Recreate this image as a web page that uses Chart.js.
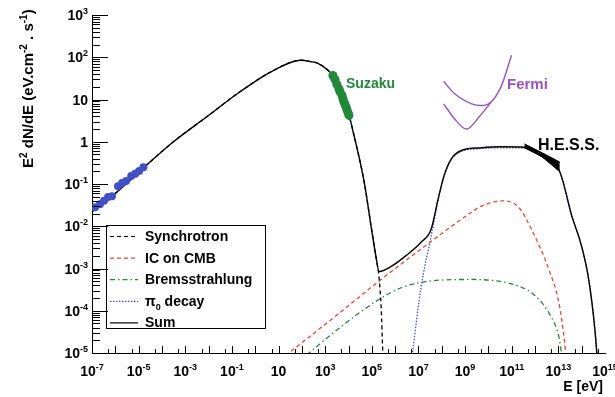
<!DOCTYPE html>
<html>
<head>
<meta charset="utf-8">
<script src="https://cdn.jsdelivr.net/npm/chart.js@4.4.1/dist/chart.umd.min.js"></script>
<style>
  html, body { margin: 0; padding: 0; background: #fff; }
  #wrap { width: 615px; height: 397px; }
</style>
</head>
<body>
<div id="wrap"><canvas id="sed" width="615" height="397"></canvas></div>
<script>
// energies in eV, fluxes are E^2 dN/dE in eV cm^-2 s^-1
var syncE = [1e-7, 1e-6, 1.6e-5, 3.1e-4, 8.9e-3, 0.23, 6.2, 89, 240, 490, 1320, 2340, 1.05e4, 1.74e4, 4.7e4, 9.3e4, 1.5e5, 2.05e5, 2.5e5, 3.0e5];
var syncF = [0.022, 0.06, 0.24, 1.0, 4.0, 15.5, 49, 85, 79, 72, 49, 35, 4.2, 1.38, 0.112, 0.010, 1.9e-3, 6e-4, 1.26e-4, 8e-6];

var icE = [20, 4.8e3, 2e5, 1.3e7, 1.86e9, 5e9, 4.5e10, 2e11, 7e11, 3.9e12, 1.05e13, 1.86e13, 2.1e13];
var icF = [8.7e-6, 9.5e-5, 5e-4, 2.9e-3, 0.0214, 0.030, 0.040, 0.028, 8.5e-3, 9.5e-4, 1.55e-4, 1.74e-5, 8e-6];

var bremE = [160, 4.8e3, 1.86e5, 1.8e6, 1.3e7, 1.6e8, 1.86e9, 3.6e10, 2e11, 7e11, 3.9e12, 1.05e13, 1.4e13];
var bremF = [9e-6, 4.2e-5, 1.8e-4, 3.5e-4, 4.7e-4, 5.4e-4, 5.5e-4, 4.9e-4, 3.8e-4, 2.7e-4, 8.9e-5, 2.4e-5, 9e-6];

var pi0E = [5.4e6, 1.3e7, 3.5e7, 7.1e7, 1.26e8, 2.6e8, 6.9e8, 5e9, 3.2e10, 3.5e11, 2e12, 1.15e13, 3.8e13, 1e14, 2e14, 3.7e14, 4.6e14];
var pi0F = [9e-6, 3.7e-4, 5.8e-3, 0.044, 0.15, 0.38, 0.59, 0.69, 0.72, 0.71, 0.44, 0.19, 0.017, 3.3e-3, 5.5e-4, 3.5e-5, 8e-6];

var sumE = [1e-7, 1e-6, 1.6e-5, 3.1e-4, 8.9e-3, 0.23, 6.2, 89, 240, 490, 1320, 2340, 1.05e4, 1.74e4, 4.7e4, 9.3e4, 1.5e5, 2.05e5, 6.8e5, 3.2e6, 1.3e7, 3.5e7, 7.1e7, 1.26e8, 2.6e8, 6.9e8, 5e9, 3.2e10, 3.5e11, 2e12, 1.15e13, 3.8e13, 1e14, 2e14, 3.7e14, 4.6e14];
var sumF = [0.022, 0.06, 0.24, 1.0, 4.0, 15.5, 49, 85, 79, 72, 49, 35, 4.2, 1.38, 0.112, 0.010, 1.95e-3, 8.5e-4, 1.12e-3, 2.1e-3, 4.2e-3, 8.5e-3, 0.046, 0.16, 0.40, 0.62, 0.72, 0.76, 0.74, 0.45, 0.195, 0.0174, 3.3e-3, 5.5e-4, 3.5e-5, 8e-6];

// radio points (blue) and Suzaku X-ray points (green)
var radioE = [1.35e-7, 2.2e-7, 3.3e-7, 4.9e-7, 7.2e-7, 1.3e-6, 1.95e-6, 2.9e-6, 4.8e-6, 7.1e-6, 1.05e-5, 1.6e-5];
var radioF = [0.028, 0.033, 0.040, 0.049, 0.051, 0.089, 0.105, 0.117, 0.155, 0.174, 0.204, 0.25];
var suzakuE = [2140, 2630, 3160, 3890, 4270, 5250, 5750, 6310, 7080, 7760, 8510, 9550, 1.05e4];
var suzakuF = [37, 30, 23, 18, 15.5, 12.6, 10.5, 8.9, 7.6, 6.8, 5.8, 4.9, 4.2];

// Fermi sensitivity curves
var fermiUpE = [1.2e8, 3.5e8, 1.9e9, 5e9, 1.35e10, 3.6e10, 9.8e10];
var fermiUpF = [27, 13.8, 7.9, 7.2, 8.9, 21, 112];
var fermiLoE = [1.2e8, 3.5e8, 1.15e9, 4.2e9, 1.35e10];
var fermiLoF = [7.9, 3.5, 2.0, 4.0, 8.9];

// H.E.S.S. butterfly
var hessE = [3.5e11, 2e12, 1.15e13];
var hessHi = [0.89, 0.55, 0.33];
var hessLo = [0.72, 0.44, 0.195];

// axis ticks
var xTicks = [1e-7, 1e-5, 1e-3, 0.1, 10, 1e3, 1e5, 1e7, 1e9, 1e11, 1e13, 1e15];
var xTickLabels = [['10', '-7'], ['10', '-5'], ['10', '-3'], ['10', '-1'], ['10', ''], ['10', '3'], ['10', '5'], ['10', '7'], ['10', '9'], ['10', '11'], ['10', '13'], ['10', '15']];
var yTicks = [1e-5, 1e-4, 1e-3, 1e-2, 0.1, 1, 10, 100, 1000];
var yTickLabels = [['10', '-5'], ['10', '-4'], ['10', '-3'], ['10', '-2'], ['10', '-1'], ['1', ''], ['10', ''], ['10', '2'], ['10', '3']];

var RED = '#ee4433', GREEN = '#22883a', BLUE = '#4a4ad8', PURPLE = '#9a52c2', PTBLUE = '#4250c8';

function pts(xs, ys) {
  return xs.map(function (v, i) { return { x: v, y: ys[i] }; });
}
function curve(label, xs, ys, color, dash, width) {
  return { label: label, data: pts(xs, ys), borderColor: color, borderDash: dash, borderWidth: width || 1.3,
    pointRadius: 0, fill: false, cubicInterpolationMode: 'monotone' };
}
function fontOf(size) { return 'bold ' + size + 'px "Liberation Sans", Arial, sans-serif'; }
// parts: [text, 0 normal | 1 superscript | -1 subscript]
function drawRich(ctx, parts, x, y, size, align) {
  var small = Math.round(size * 0.66), w = 0;
  parts.forEach(function (p) { ctx.font = fontOf(p[1] ? small : size); w += ctx.measureText(p[0]).width; });
  var cx = align === 'right' ? x - w : (align === 'center' ? x - w / 2 : x);
  ctx.textAlign = 'left';
  ctx.textBaseline = 'alphabetic';
  parts.forEach(function (p) {
    ctx.font = fontOf(p[1] ? small : size);
    var dy = p[1] === 1 ? -size * 0.42 : (p[1] === -1 ? size * 0.3 : 0);
    ctx.fillText(p[0], cx, y + dy);
    cx += ctx.measureText(p[0]).width;
  });
}

var legendItems = [
  { parts: [['Synchrotron', 0]], color: '#000', dash: [4, 3] },
  { parts: [['IC on CMB', 0]], color: RED, dash: [4, 3] },
  { parts: [['Bremsstrahlung', 0]], color: GREEN, dash: [5, 3, 1.5, 3] },
  { parts: [['\u03c0', 0], ['0', -1], [' decay', 0]], color: BLUE, dash: [1.5, 1.5] },
  { parts: [['Sum', 0]], color: '#000', dash: [] }
];

var decorations = {
  id: 'decorations',
  afterDatasetsDraw: function (chart) {
    var ctx = chart.ctx;
    ctx.save();
    // legend box
    ctx.fillStyle = '#fff';
    ctx.fillRect(106, 225, 159, 103);
    ctx.strokeStyle = '#000';
    ctx.lineWidth = 1;
    ctx.strokeRect(106.5, 225.5, 159, 103);
    legendItems.forEach(function (it, i) {
      var ly = 236 + i * 21.6;
      ctx.beginPath();
      ctx.setLineDash(it.dash);
      ctx.strokeStyle = it.color;
      ctx.lineWidth = 1.2;
      ctx.moveTo(110, ly + 0.5);
      ctx.lineTo(138, ly + 0.5);
      ctx.stroke();
      ctx.setLineDash([]);
      ctx.fillStyle = '#000';
      drawRich(ctx, it.parts, 145, ly + 5, 14, 'left');
    });
    ctx.restore();
  },
  afterDraw: function (chart) {
    var ctx = chart.ctx, a = chart.chartArea, xs = chart.scales.x, ys = chart.scales.y;
    ctx.save();
    ctx.strokeStyle = '#000';
    ctx.lineWidth = 1;
    ctx.beginPath();
    // y ticks: decades long, 2..9 short, pointing into the frame
    yTicks.forEach(function (v, i) {
      var py = Math.round(ys.getPixelForValue(v)) + 0.5;
      ctx.moveTo(a.left, py); ctx.lineTo(a.left + 16, py);
      if (i < yTicks.length - 1) {
        for (var m = 2; m <= 9; m++) {
          var q = Math.round(ys.getPixelForValue(v * m)) + 0.5;
          ctx.moveTo(a.left, q); ctx.lineTo(a.left + 8, q);
        }
      }
    });
    // x ticks: each decade, plus 5x
    for (var k = 0; k < xTicks.length - 1; k++) {
      var decs = [xTicks[k], xTicks[k] * 5, xTicks[k] * 10, xTicks[k] * 50];
      decs.forEach(function (v, j) {
        var px = Math.round(xs.getPixelForValue(v)) + 0.5;
        var len = j % 2 === 0 ? 7 : 4;
        ctx.moveTo(px, a.bottom); ctx.lineTo(px, a.bottom - len);
      });
    }
    ctx.stroke();

    // tick labels
    ctx.fillStyle = '#000';
    yTicks.forEach(function (v, i) {
      var py = ys.getPixelForValue(v);
      drawRich(ctx, [[yTickLabels[i][0], 0], [yTickLabels[i][1], 1]], a.left - 4, py + 5, 14, 'right');
    });
    xTicks.forEach(function (v, i) {
      var px = xs.getPixelForValue(v);
      drawRich(ctx, [[xTickLabels[i][0], 0], [xTickLabels[i][1], 1]], px, 376, 14, 'center');
    });

    // axis titles
    drawRich(ctx, [['E [eV]', 0]], a.right - 2, 391, 14, 'right');
    ctx.save();
    ctx.translate(33, 168);
    ctx.rotate(-Math.PI / 2);
    drawRich(ctx, [['E', 0], ['2', 1], [' dN/dE (eV.cm', 0], ['-2', 1], [' . s', 0], ['-1', 1], [')', 0]], 0, 0, 15, 'left');
    ctx.restore();

    // instrument labels
    ctx.fillStyle = GREEN;
    drawRich(ctx, [['Suzaku', 0]], 346, 88, 14, 'left');
    ctx.fillStyle = PURPLE;
    drawRich(ctx, [['Fermi', 0]], 507, 89, 15, 'left');
    ctx.fillStyle = '#000';
    drawRich(ctx, [['H.E.S.S.', 0]], 538, 150, 16, 'left');
    ctx.restore();
  }
};

new Chart(document.getElementById('sed'), {
  type: 'line',
  data: {
    datasets: [
      { label: 'Radio', data: pts(radioE, radioF), showLine: false, pointRadius: 4,
        pointBackgroundColor: PTBLUE, pointBorderWidth: 0, borderColor: PTBLUE },
      { label: 'Suzaku', data: pts(suzakuE, suzakuF), showLine: false, pointRadius: 4.5,
        pointBackgroundColor: GREEN, pointBorderWidth: 0, borderColor: GREEN },
      { label: 'HESS low', data: pts(hessE, hessLo), borderColor: '#000', borderWidth: 1, pointRadius: 0, fill: false },
      { label: 'HESS high', data: pts(hessE, hessHi), borderColor: '#000', borderWidth: 1, pointRadius: 0,
        fill: '-1', backgroundColor: '#000' },
      curve('Sum', sumE, sumF, '#000', [], 1.4),
      curve('Synchrotron', syncE, syncF, '#000', [4, 3], 1.3),
      curve('IC on CMB', icE, icF, RED, [4, 3], 1.3),
      curve('Bremsstrahlung', bremE, bremF, GREEN, [5, 3, 1.5, 3], 1.3),
      curve('pi0 decay', pi0E, pi0F, BLUE, [1.5, 1.5], 1.3),
      curve('Fermi 1', fermiUpE, fermiUpF, PURPLE, [], 1.4),
      curve('Fermi 2', fermiLoE, fermiLoF, PURPLE, [], 1.4)
    ]
  },
  options: {
    responsive: false,
    animation: false,
    devicePixelRatio: 1,
    layout: { padding: { top: 15, right: 10, left: 0, bottom: 0 } },
    plugins: { legend: { display: false }, tooltip: { enabled: false } },
    scales: {
      x: {
        type: 'logarithmic', min: 1e-7, max: 1e15,
        grid: { display: false, drawTicks: false },
        border: { display: true, color: '#000', width: 1 },
        ticks: { display: false },
        afterFit: function (s) { s.height = 44; s.paddingLeft = 0; s.paddingRight = 0; }
      },
      y: {
        type: 'logarithmic', min: 1e-5, max: 1e3,
        grid: { display: false, drawTicks: false },
        border: { display: true, color: '#000', width: 1 },
        ticks: { display: false },
        afterFit: function (s) { s.width = 92; s.paddingTop = 0; s.paddingBottom = 0; }
      }
    }
  },
  plugins: [decorations]
});
</script>
</body>
</html>
